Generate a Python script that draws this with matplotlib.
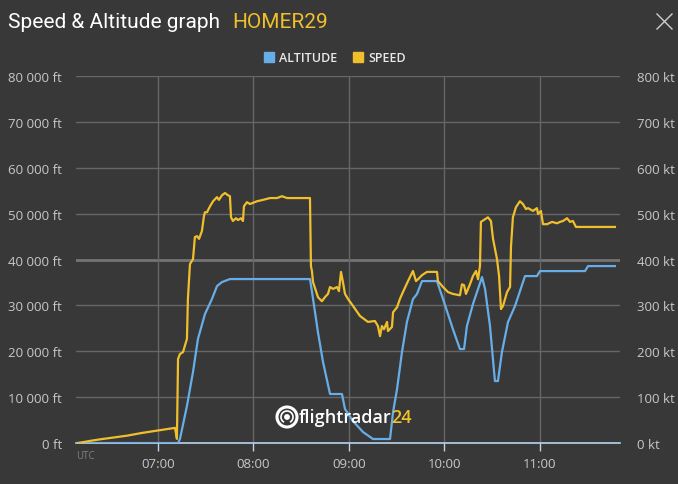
import matplotlib.pyplot as plt
from matplotlib.ticker import FuncFormatter, MultipleLocator
from matplotlib.patches import Circle, Arc
from matplotlib.lines import Line2D

# minutes after 07:00 UTC
speed_min = [-50.3, -42.0, -36.4, -28.0, -19.5, -10.0, -0.6, 10.7, 11.9, 12.6, 13.8, 15.7,
             18.2, 18.8, 20.1,
             22.0, 23.2, 24.5, 25.8, 27.6, 28.9, 29.5, 30.8, 32.7, 34.6, 37.1, 38.3,
             40.2, 42.1, 44.0, 45.2, 45.9, 47.1, 49.0, 50.3, 52.1, 53.4, 54.0, 55.9,
             57.8, 62.2, 66.0, 70.4, 74.8, 77.9, 81.1, 95.5, 96.1, 96.8, 97.4, 100.5,
             103.0, 104.9, 106.8, 108.1, 110.0, 112.5, 113.7, 115.0, 116.2, 117.5,
             119.4, 122.5, 126.9, 131.9, 136.3, 138.2, 139.5, 140.7, 142.0, 143.9,
             144.5, 147.0, 147.7, 150.2, 152.0, 153.9, 157.1, 160.2, 162.1, 163.4,
             165.9, 169.0, 175.3, 175.9, 179.1, 182.2, 185.3, 189.7, 191.0, 192.3,
             193.5, 196.0, 197.9, 199.8, 201.1, 202.3, 202.9, 205.5, 207.3, 209.2,
             210.5, 213.0, 214.3, 215.5, 216.8, 219.3, 221.2, 221.8, 223.0, 224.9,
             227.4, 229.3, 231.2, 232.5, 235.6, 238.1, 238.8, 240.6, 241.9, 244.4,
             247.6, 250.7, 252.6, 254.5, 257.0, 258.9, 260.7, 262.6, 287.1]
speed_kt = [0, 5, 8, 12, 16, 22, 27, 33, 9, 183, 194, 198,
            227, 314, 390,
            401, 449, 451, 445, 462, 495, 503, 503, 516, 527, 536, 530,
            540, 545, 540, 538, 492, 484, 490, 486, 490, 484, 516, 525,
            521, 527, 530, 534, 534, 538, 534, 534, 386, 373, 351, 318,
            309, 318, 325, 340, 336, 340, 331, 373, 351, 325,
            314, 299, 277, 264, 266, 255, 233, 255, 248, 264,
            244, 253, 285, 296, 314, 329, 353, 375, 353, 357,
            366, 373, 373, 353, 340, 329, 325, 322, 346, 344,
            325, 346, 364, 375, 357, 386, 482, 488, 492, 484,
            445, 401, 364, 292, 299, 329, 340, 429, 492, 514,
            527, 521, 510, 512, 506, 512, 499, 506, 477, 477,
            482, 479, 482, 484, 490, 482, 484, 471, 471]

alt_min = [-51.5, 11.9, 12.6, 13.8, 18.2, 22.0, 25.1, 29.5, 33.9, 37.1, 40.2, 45.2,
           95.5, 96.8, 100.5, 103.7, 108.1, 115.6, 117.5, 122.5, 128.8, 135.1, 145.8,
           147.7, 150.2, 153.3, 156.4, 160.2, 162.7, 165.9, 175.3, 179.1, 185.3, 189.7,
           192.3, 194.1, 197.9, 203.6, 205.5, 208.6, 211.7, 213.6, 216.1, 219.9, 224.3,
           230.6, 238.1, 240.0, 268.3, 270.2, 287.1]
alt_ft = [0, 0, 0, 870, 8060, 15470, 22660, 28100, 31380, 34210, 35080, 35740,
          35740, 32900, 24190, 17650, 10680, 10680, 7410, 4790, 2400, 870, 870,
          6750, 11770, 19830, 26370, 31380, 32470, 35300, 35300, 31380, 24840, 20480,
          20480, 25490, 30290, 36170, 33560, 25490, 13510, 13510, 19830, 26370, 29850,
          36390, 36390, 37480, 37480, 38570, 38570]

hour_ticks = [0, 60, 120, 180, 240]

BG = '#383838'
GRID = '#666666'
TXT = '#c8c8c8'
YEL = '#f0bf2c'
BLUE = '#67aee8'

plt.rcParams['font.family'] = ['Open Sans', 'DejaVu Sans']

fig = plt.figure(figsize=(6.78, 4.85), dpi=100, facecolor=BG)
ax = fig.add_axes([0.1121, 0.0845, 0.8024, 0.7567], facecolor=BG)
ax2 = ax.twinx()
ax2.set_facecolor('none')

ax.set_xlim(-51.5, 290.3)
ax.set_ylim(0, 80000)
ax2.set_ylim(0, 800)

ax.yaxis.set_major_locator(MultipleLocator(10000))
ax2.yaxis.set_major_locator(MultipleLocator(100))
ax.set_xticks(hour_ticks)
ax.xaxis.set_major_formatter(FuncFormatter(lambda v, p: f"{7 + int(v // 60):02d}:{int(v % 60):02d}"))
ax.yaxis.set_major_formatter(FuncFormatter(lambda v, p: f"{int(v):,} ft".replace(',', ' ')))
ax2.yaxis.set_major_formatter(FuncFormatter(lambda v, p: f"{int(v)} kt"))

for y in range(10000, 80001, 10000):
    ax.axhline(y, color='#747474' if y == 40000 else GRID,
               lw=2.0 if y == 40000 else 1.0, zorder=0)
for x in hour_ticks:
    ax.axvline(x, color=GRID, lw=1.0, zorder=0)

for a in (ax, ax2):
    for s in a.spines.values():
        s.set_visible(False)
ax.spines['bottom'].set_visible(True)
ax.spines['bottom'].set_color('#b8d4ee')
ax.spines['bottom'].set_linewidth(1.2)

ax.tick_params(axis='x', colors='#b8d4ee', length=6, width=1, labelcolor=TXT,
               labelsize=9.5, pad=4)
ax.tick_params(axis='y', length=0, labelcolor=TXT, labelsize=9.5, pad=10)
ax2.tick_params(axis='y', length=0, labelcolor=TXT, labelsize=9.5, pad=12)

ax.plot(alt_min, alt_ft, color=BLUE, lw=1.6, zorder=3, solid_joinstyle='round')
ax2.plot(speed_min, speed_kt, color=YEL, lw=1.6, zorder=3, solid_joinstyle='round')

ax.text(0.0, -0.035, 'UTC', transform=ax.transAxes, color='#808080',
        fontsize=7, ha='left', va='center')

# title and close button
fig.text(8 / 678, 1 - 22 / 485, 'Speed & Altitude graph', color='white',
         fontsize=15, family='Roboto', va='center', ha='left')
fig.text(232 / 678, 1 - 22 / 485, 'HOMER29', color=YEL,
         fontsize=15, family='Roboto', va='center', ha='left')
fig.add_artist(Line2D([657 / 678, 672 / 678], [1 - 15 / 485, 1 - 30 / 485],
                      color='#d0d0d0', lw=1.0))
fig.add_artist(Line2D([657 / 678, 672 / 678], [1 - 30 / 485, 1 - 15 / 485],
                      color='#d0d0d0', lw=1.0))

# legend
handles = [Line2D([], [], marker='s', ls='none', color=BLUE, markersize=6.5),
           Line2D([], [], marker='s', ls='none', color=YEL, markersize=6.5)]
fig.legend(handles, ['ALTITUDE', 'SPEED'], loc='center', ncol=2,
           bbox_to_anchor=(334 / 678, 1 - 59 / 485), frameon=False,
           labelcolor='#e8e8e8', prop={'size': 9, 'weight': 'semibold'},
           handletextpad=0.3, columnspacing=1.2, handlelength=1.0)

# watermark
cy = 1 - 418 / 485
fig.add_artist(Circle((287, 485 - 418), 10, transform=None, fill=False,
                      ec='white', lw=2.2, zorder=5))
fig.add_artist(Arc((287, 485 - 418), 12, 12, theta1=-60, theta2=240,
                   transform=None, color='white', lw=1.2, zorder=5))
fig.add_artist(Circle((287, 485 - 418), 2.2, transform=None, color='white', zorder=5))
wm = fig.text(299 / 678, cy, 'flightradar', color='white', fontsize=13,
              va='center', ha='left', zorder=5, fontweight='semibold')
fig.canvas.draw()
bb = wm.get_window_extent()
fig.text(bb.x1 / 678, bb.y0 / 485, '24', color=YEL, fontsize=13,
         va='bottom', ha='left', zorder=5, fontweight='semibold')

fig.savefig('out.png', dpi=100, facecolor=BG)
